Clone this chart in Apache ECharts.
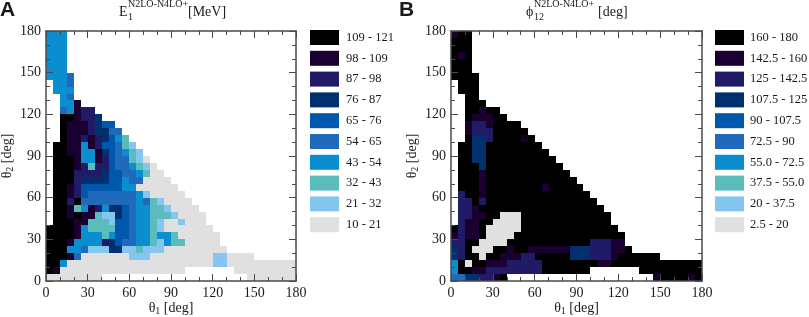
<!DOCTYPE html>
<html><head><meta charset="utf-8">
<style>html,body{margin:0;padding:0;background:#fff}#c{width:809px;height:317px}</style>
<script src="https://cdn.jsdelivr.net/npm/echarts@6/dist/echarts.min.js"></script>
</head><body><div id="c"></div>
<script>
const CELL_DEG = 5;
const colors = ['#000000','#1a0030','#211a66','#00306e','#0058ac','#206abc','#0a8ed0','#5bbcbc','#84c6ef','#e0e0e0'];
const labelsA = ['109 - 121','98 - 109','87 - 98','76 - 87','65 - 76','54 - 65','43 - 54','32 - 43','21 - 32','10 - 21'];
const labelsB = ['160 - 180','142.5 - 160','125 - 142.5','107.5 - 125','90 - 107.5','72.5 - 90','55.0 - 72.5','37.5 - 55.0','20 - 37.5','2.5 - 20'];
// Each string is one theta2 row, top (175-180) to bottom (0-5). Each character is a theta1 cell (5 deg wide):
// legend class index 0-9, '.' = no data, missing trailing cells = no data. Spaces only group characters.
const rowsA = [
'666','666','666','666','666','666',
'6665','.665','.666','..65','..661','..56122','..001223','..01112344',
'..011123355','..0112123467','.001161244578','.0011661345678','.00016612455789',
'.000127224556789','.0002222344556799','.00023333446559999',
'.0012444444 66 999999','.00124 5555555 68 99999','.0020 55555555 6578 9999',
'.00176126334566778 9999','.001011788345667778 9999','.0001177784456678 998 999',
'00001677774456678 9999999','0000166676445667667 999999','00016666234556678677 99999',
'00066588833887888 999999999','00015 9999999 888 999999999 88 9999',
'006 99999 99999 99999 999999 88 99999 99999',
'01 99999 99999 99999 999 ....... 999999999',
'99999999 ..................... 9999999'
];
const rowsB = [
'100','000','000','010','000','000',
'0000','.000','.000','..00','..000','..00100','..011100','..12210000',
'..122200000','..0332000010','.0033 00000000','.0033 000000000','.0033 0000000000',
'.0003 00000000000','.0001 000000000000','.0001 0000000000000',
'.0001 00000000 1 00000','.2001 00000 00000 00000','.2202 00000 00000 000000',
'.2210 00000 00000 0000000','.2211 00 999 00000 00000 000','.2110 0 9999 00000 00000 000',
'0211 0 99999 00000 00000 0000','1211 0 9999 00000 00000 000000',
'2200 9999 000000 000000 222 11','32 0 999 00 1 00 111111 333 222 11 0',
'32 00 9 00 111 22 00000 333 222 1 000000',
'60 9 00 111 22222 00000000 11 00000 00000 000',
'600 11 22222222 0000000 ....... 000000000',
'55332210 ..................... 1000010'
];
function cells(rows){
  const out = colors.map(()=>[]);
  rows.forEach((raw,r)=>{
    const row = raw.replace(/ /g,'');
    const j = rows.length-1-r;
    for(let c=0;c<row.length;c++){
      if(row[c]!=='.') out[+row[c]].push([c*CELL_DEG,j*CELL_DEG]);
    }
  });
  return out;
}
const serif = '"Liberation Serif","Times New Roman",serif';
const axisCol = '#4a4a4a';
function axis(kind,pos,gridIndex,labels,name){
  const o = {type:'value',gridIndex,min:0,max:180,interval:30,position:pos,z:5,
    axisLine:{show:true,onZero:false,lineStyle:{color:axisCol,width:1.5}},
    axisTick:{show:true,inside:true,length:7,lineStyle:{color:axisCol,width:1}},
    minorTick:{show:true,splitNumber:3,length:4,lineStyle:{color:axisCol,width:1}},
    splitLine:{show:false},minorSplitLine:{show:false},
    axisLabel:{show:labels,margin:5,fontFamily:serif,fontSize:14,color:'#1a1a1a'}};
  if(name){
    o.name = `{t|θ}{s|${name}}{t| [deg]}`;
    o.nameLocation='middle';
    o.nameMoveOverlap=false;
    o.nameGap = kind==='x'?19:31;
    if(kind==='y') o.nameRotate=90;
    o.nameTextStyle={rich:{
      t:{fontFamily:serif,fontSize:14,color:'#1a1a1a',verticalAlign:'middle',lineHeight:16},
      s:{fontFamily:serif,fontSize:10,color:'#1a1a1a',padding:[7,0,0,0],lineHeight:16}
    }};
  }
  return o;
}
function series(rows,labels,xi,yi){
  return cells(rows).map((d,i)=>({
    type:'custom',name:labels[i],xAxisIndex:xi,yAxisIndex:yi,data:d,clip:true,
    encode:{x:0,y:1},z:2,silent:true,itemStyle:{color:colors[i]},
    renderItem(p,api){
      const a=api.coord([api.value(0),api.value(1)+CELL_DEG]);
      const b=api.coord([api.value(0)+CELL_DEG,api.value(1)]);
      const x=Math.round(a[0]),y=Math.round(a[1]);
      return {type:'rect',shape:{x,y,width:Math.round(b[0])-x,height:Math.round(b[1])-y},style:{fill:colors[i]}};
    }
  }));
}
function legend(labels,left,pad){
  return {orient:'vertical',left,top:30,itemWidth:29,itemHeight:15,itemGap:5.8,padding:0,itemStyle:{borderWidth:0},
    icon:'rect',data:labels,selectedMode:false,textStyle:{fontFamily:serif,fontSize:12.5,color:'#1a1a1a',lineHeight:15,padding:[0,0,0,pad]}};
}
function txt(x,y,text,fontSize,font,weight){
  return {type:'text',x,y,style:{text,fontFamily:font||serif,fontSize,fontWeight:weight||'normal',fill:'#1a1a1a',textVerticalAlign:'middle'}};
}
const chart = echarts.init(document.getElementById('c'),null,{renderer:'canvas'});
chart.setOption({
  animation:false,backgroundColor:'#fff',
  grid:[{left:46,width:250,top:31,height:250,outerBoundsMode:'none'},{left:451,width:251,top:31,height:250,outerBoundsMode:'none'}],
  xAxis:[axis('x','bottom',0,true,'1'),axis('x','top',0,false),axis('x','bottom',1,true,'1'),axis('x','top',1,false)],
  yAxis:[axis('y','left',0,true,'2'),axis('y','right',0,false),axis('y','left',1,true,'2'),axis('y','right',1,false)],
  legend:[legend(labelsA,310,2),legend(labelsB,715,1)],
  series:[...series(rowsA,labelsA,0,0),...series(rowsB,labelsB,2,2)],
  graphic:[
    txt(0,10,'A',21,'"Liberation Sans",Arial,sans-serif','bold'),
    txt(399,10,'B',21,'"Liberation Sans",Arial,sans-serif','bold'),
    txt(119,12,'E',14),txt(128,17,'1',10),txt(128,4,'N2LO-N4LO+',10),txt(188,12,'[MeV]',14),
    txt(526,12,'ϕ',14),txt(534,17,'12',10),txt(534,4,'N2LO-N4LO+',10),txt(598,12,'[deg]',14)
  ]
});
</script></body></html>
